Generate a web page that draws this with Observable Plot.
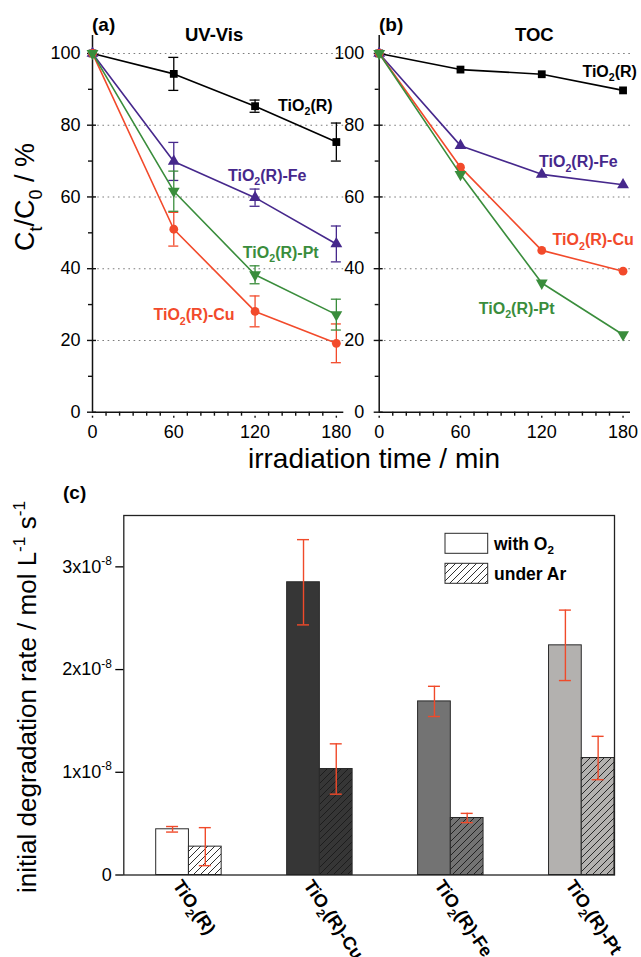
<!DOCTYPE html>
<html><head><meta charset="utf-8">
<script src="https://cdn.jsdelivr.net/npm/d3@7"></script>
<script src="https://cdn.jsdelivr.net/npm/@observablehq/plot@0.6"></script>
<style>
html,body{margin:0;padding:0;background:#fff;}
#fig{position:relative;width:641px;height:957px;overflow:hidden;background:#fff;}
</style></head><body>
<svg width="0" height="0" style="position:absolute" id="defs"><defs></defs></svg>
<div id="fig"></div>
<script>
// ---------- data ----------
const times = [0, 60, 120, 180];
// panel (a) UV-Vis, C_t/C_0 in %
const uvR  = [100, 94.3, 85.3, 75.3], uvRErr  = [0, 4.6, 1.7, 5.3];
const uvFe = [100, 69.9, 59.8, 46.9], uvFeErr = [0, 5.3, 2.4, 5.0];
const uvCu = [100, 51.0, 28.1, 19.2], uvCuErr = [0, 4.7, 4.3, 5.4];
const uvPt = [100, 61.6, 38.3, 27.2], uvPtErr = [0, 5.6, 2.5, 4.3];
// panel (b) TOC
const tocR  = [100, 95.5, 94.2, 89.7];
const tocFe = [100, 74.3, 66.3, 63.4];
const tocCu = [100, 68.3, 45.1, 39.3];
const tocPt = [100, 66.3, 36.0, 21.6];
const seriesNames   = ["TiO2(R)", "TiO2(R)-Fe", "TiO2(R)-Cu", "TiO2(R)-Pt"];
const seriesColors  = ["#000000", "#46288c", "#f24a2b", "#3a8d3c"];
const seriesSymbols = ["square", "triangle", "circle", "triangle"];
const seriesRotate  = [0, 0, 0, 180];
// in-plot series labels (data units: minutes, %)
const uvLabelT  = [137, 100, 45, 111];
const uvLabelY  = [85.5, 66, 27, 44.5];
const tocLabelT = [150, 118, 128, 73.5];
const tocLabelY = [95, 69.7, 47.9, 28.8];
const yMajor = [0, 20, 40, 60, 80, 100];
const yMinor = [10, 30, 50, 70, 90];
const gridVals = [20, 40, 60, 80, 100];
const xMajor = [0, 60, 120, 180];
const xMinor = [10,20,30,40,50,70,80,90,100,110,130,140,150,160,170];
// panel (c) initial degradation rate, mol L-1 s-1
const catalysts = ["TiO2(R)", "TiO2(R)-Cu", "TiO2(R)-Fe", "TiO2(R)-Pt"];
const rateO2    = [0.445e-8, 2.85e-8, 1.69e-8, 2.236e-8];
const rateO2Err = [0.027e-8, 0.415e-8, 0.147e-8, 0.343e-8];
const rateAr    = [0.276e-8, 1.032e-8, 0.555e-8, 1.139e-8];
const rateArErr = [0.185e-8, 0.245e-8, 0.045e-8, 0.211e-8];
const barColors = ["#ffffff", "#363636", "#737373", "#b3b1af"];
const hatchIds  = ["hatch0", "hatch1", "hatch2", "hatch3"];
const rateTicks = [0, 1e-8, 2e-8, 3e-8];

const FONT = "'Liberation Sans', Arial, Helvetica, sans-serif";
const fig = document.getElementById("fig");

// ---------- hatch patterns ----------
const defs = d3.select("#defs defs");
barColors.forEach((c, i) => {
  const p = defs.append("pattern").attr("id", hatchIds[i])
    .attr("patternUnits", "userSpaceOnUse").attr("width", 7).attr("height", 7);
  p.append("rect").attr("width", 7).attr("height", 7).attr("fill", c);
  p.append("path").attr("d", "M-1,1 l2,-2 M0,7 l7,-7 M6,8 l2,-2")
    .attr("stroke", "#1a1a1a").attr("stroke-width", 0.9);
});

// ---------- rich text (sub/superscripts) ----------
function rich(root) {
  root.querySelectorAll("text").forEach(t => {
    const s = t.textContent;
    if (!/[_^]\{/.test(s)) return;
    const fs = parseFloat(getComputedStyle(t).fontSize) || 14;
    t.textContent = "";
    const parts = s.split(/([_^]\{[^}]*\})/).filter(p => p !== "");
    let shift = 0;
    for (const p of parts) {
      const ts = document.createElementNS("http://www.w3.org/2000/svg", "tspan");
      let target = 0, txt = p, small = false;
      if (p.startsWith("_{")) { target = fs * 0.28; txt = p.slice(2, -1); small = true; }
      else if (p.startsWith("^{")) { target = -fs * 0.42; txt = p.slice(2, -1); small = true; }
      ts.setAttribute("dy", (target - shift).toFixed(2));
      shift = target;
      if (small) ts.setAttribute("font-size", (fs * 0.66).toFixed(1));
      ts.textContent = txt;
      t.appendChild(ts);
    }
  });
}
const markup = s => s.replace("TiO2", "TiO_{2}");

function place(el, left, top) {
  el.style.position = "absolute";
  el.style.left = left + "px";
  el.style.top = top + "px";
  fig.appendChild(el);
  return el;
}

// ---------- panels (a) and (b) ----------
function linePanel({vals, errs, labT, labY, width, marginLeft, marginRight, tickPad}) {
  const marks = [
    Plot.ruleY(gridVals, {stroke: "#7d7d7d", strokeDasharray: "1.6,3.6", strokeWidth: 1.1}),
    Plot.ruleX([0], {stroke: "#111", strokeWidth: 1.5}),
    Plot.ruleY([0], {stroke: "#111", strokeWidth: 1.5}),
    Plot.ruleY(yMajor, {x1: 0, x2: 0, insetLeft: -5, insetRight: -4, stroke: "#111", strokeWidth: 1.4}),
    Plot.ruleY(yMinor, {x1: 0, x2: 0, insetLeft: -4, insetRight: 0, stroke: "#111", strokeWidth: 1.4}),
    Plot.ruleX(xMajor, {y1: 0, y2: 0, insetTop: 6, insetBottom: -4, stroke: "#111", strokeWidth: 1.4}),
    Plot.ruleX(xMinor, {y1: 0, y2: 0, insetTop: 4, insetBottom: 0, stroke: "#111", strokeWidth: 1.4}),
    Plot.axisY({ticks: yMajor, tickSize: 0, tickPadding: tickPad, fontSize: 18, label: null}),
    Plot.axisX({ticks: xMajor, tickSize: 0, tickPadding: 13, fontSize: 18, label: null})
  ];
  vals.forEach((v, k) => {
    const col = seriesColors[k];
    const rows = times.map((t, i) => ({t, v: v[i], e: errs ? errs[k][i] : 0}));
    const eb = rows.filter(d => d.e > 0);
    if (eb.length) {
      marks.push(Plot.ruleX(eb, {x: "t", y1: d => d.v - d.e, y2: d => d.v + d.e, stroke: col, strokeWidth: 1.3}));
      marks.push(Plot.ruleY(eb, {x1: "t", x2: "t", y: d => d.v + d.e, insetLeft: -5, insetRight: -5, stroke: col, strokeWidth: 1.3}));
      marks.push(Plot.ruleY(eb, {x1: "t", x2: "t", y: d => d.v - d.e, insetLeft: -5, insetRight: -5, stroke: col, strokeWidth: 1.3}));
    }
    marks.push(Plot.line(rows, {x: "t", y: "v", stroke: col, strokeWidth: 1.6}));
    marks.push(Plot.dot(rows, {x: "t", y: "v", symbol: seriesSymbols[k], fill: col, stroke: "none", r: 4.4, rotate: seriesRotate[k]}));
  });
  const labs = seriesNames.map((n, k) => ({n: markup(n), t: labT[k], y: labY[k], c: seriesColors[k]}));
  labs.forEach(d => marks.push(Plot.text([d], {x: "t", y: "y", text: "n", fill: d.c, textAnchor: "start", fontWeight: "bold", fontSize: 16})));
  return Plot.plot({
    width, height: 460,
    marginLeft, marginRight, marginTop: 35, marginBottom: 48.3,
    x: {domain: [0, 185.5], label: null},
    y: {domain: [0, 105], label: null},
    style: {fontFamily: FONT, background: "transparent", overflow: "visible", color: "#000"},
    marks
  });
}

const pa = linePanel({
  vals: [uvR, uvFe, uvCu, uvPt], errs: [uvRErr, uvFeErr, uvCuErr, uvPtErr],
  labT: uvLabelT, labY: uvLabelY, width: 345, marginLeft: 92, marginRight: 1.7, tickPad: 12
});
place(pa, 0, 0);
const pb = linePanel({
  vals: [tocR, tocFe, tocCu, tocPt], errs: null,
  labT: tocLabelT, labY: tocLabelY, width: 351, marginLeft: 88.7, marginRight: 11, tickPad: 15
});
place(pb, 290, 0);

// ---------- panel (c) ----------
const catRows = catalysts.map((c, i) => ({
  c, o2: rateO2[i], o2e: rateO2Err[i], ar: rateAr[i], are: rateArErr[i],
  fill: barColors[i], hatch: `url(#${hatchIds[i]})`
}));
const bandRange = [155.7, 614];
const bw = (bandRange[1] - bandRange[0]) / 3.5 * 0.5;
const half = bw / 2, capW = 6;
const red = "#f04a2a";
const pc = Plot.plot({
  width: 641, height: 477,
  marginLeft: 123.3, marginRight: 27, marginTop: 35, marginBottom: 82.5,
  x: {type: "band", domain: catalysts, range: bandRange, paddingInner: 0.5, paddingOuter: 0, align: 0.5, round: false, label: null},
  y: {domain: [0, 3.5e-8], label: null},
  color: {type: "identity"},
  style: {fontFamily: FONT, background: "transparent", overflow: "visible", color: "#000"},
  marks: [
    Plot.barY(catRows, {x: "c", y: "o2", fill: "fill", stroke: "#2a2a2a", strokeWidth: 1, insetRight: half}),
    Plot.barY(catRows, {x: "c", y: "ar", fill: "hatch", stroke: "#2a2a2a", strokeWidth: 1, insetLeft: half}),
    Plot.ruleX(catRows, {x: "c", y1: d => d.o2 - d.o2e, y2: d => d.o2 + d.o2e, dx: -half / 2, stroke: red, strokeWidth: 1.4}),
    Plot.tickY(catRows, {x: "c", y: d => d.o2 + d.o2e, insetLeft: half / 2 - capW, insetRight: bw - half / 2 - capW, stroke: red, strokeWidth: 1.4}),
    Plot.tickY(catRows, {x: "c", y: d => d.o2 - d.o2e, insetLeft: half / 2 - capW, insetRight: bw - half / 2 - capW, stroke: red, strokeWidth: 1.4}),
    Plot.ruleX(catRows, {x: "c", y1: d => d.ar - d.are, y2: d => d.ar + d.are, dx: half / 2, stroke: red, strokeWidth: 1.4}),
    Plot.tickY(catRows, {x: "c", y: d => d.ar + d.are, insetLeft: bw - half / 2 - capW, insetRight: half / 2 - capW, stroke: red, strokeWidth: 1.4}),
    Plot.tickY(catRows, {x: "c", y: d => d.ar - d.are, insetLeft: bw - half / 2 - capW, insetRight: half / 2 - capW, stroke: red, strokeWidth: 1.4}),
    Plot.frame({stroke: "#222", strokeWidth: 1.3}),
    Plot.axisY({ticks: rateTicks, tickSize: 8, tickPadding: 4, fontSize: 18, strokeWidth: 1.3, label: null,
      tickFormat: d => d === 0 ? "0" : `${Math.round(d * 1e8)}x10^{-8}`}),
    Plot.axisX({tickSize: 0, tickRotate: 56, tickPadding: 7, dx: -12, fontSize: 18, fontWeight: "bold", label: null,
      tickFormat: d => markup(d)})
  ]
});
place(pc, 0, 480);
// legend inside panel (c)
const lg = d3.select(pc);
lg.append("rect").attr("x", 445).attr("y", 53.3).attr("width", 42.7).attr("height", 20)
  .attr("fill", "#fff").attr("stroke", "#2a2a2a").attr("stroke-width", 1);
lg.append("rect").attr("x", 445).attr("y", 83.3).attr("width", 42.7).attr("height", 20)
  .attr("fill", `url(#${hatchIds[0]})`).attr("stroke", "#2a2a2a").attr("stroke-width", 1);
lg.append("text").attr("x", 494).attr("y", 69.5).attr("text-anchor", "start")
  .attr("font-size", 17.5).attr("font-weight", "bold").text("with O_{2}");
lg.append("text").attr("x", 494).attr("y", 99.5).attr("text-anchor", "start")
  .attr("font-size", 17.5).attr("font-weight", "bold").text("under Ar");

// ---------- overlay texts ----------
const ov = d3.select(fig).append("svg").attr("width", 641).attr("height", 957)
  .style("position", "absolute").style("left", 0).style("top", 0)
  .style("pointer-events", "none").attr("font-family", FONT);
function addText(x, y, str, {size = 17, weight = "normal", anchor = "start", rotate = 0, fill = "#000"} = {}) {
  const t = ov.append("text").attr("x", x).attr("y", y).attr("font-size", size)
    .attr("font-weight", weight).attr("text-anchor", anchor).attr("fill", fill).text(str);
  if (rotate) t.attr("transform", `rotate(${rotate},${x},${y})`);
}
addText(92, 31, "(a)", {size: 19, weight: "bold"});
addText(185, 41, "UV-Vis", {size: 18.5, weight: "bold"});
addText(379, 31, "(b)", {size: 19, weight: "bold"});
addText(515, 41, "TOC", {size: 18.5, weight: "bold"});
addText(374, 468, "irradiation time / min", {size: 28, anchor: "middle"});
addText(34, 197, "C_{t}/C_{0} / %", {size: 27, anchor: "middle", rotate: -90});
addText(63, 499, "(c)", {size: 19, weight: "bold"});
addText(36, 697, "initial degradation rate / mol L^{-1} s^{-1}", {size: 26, anchor: "middle", rotate: -90});

rich(fig);
</script></body></html>
